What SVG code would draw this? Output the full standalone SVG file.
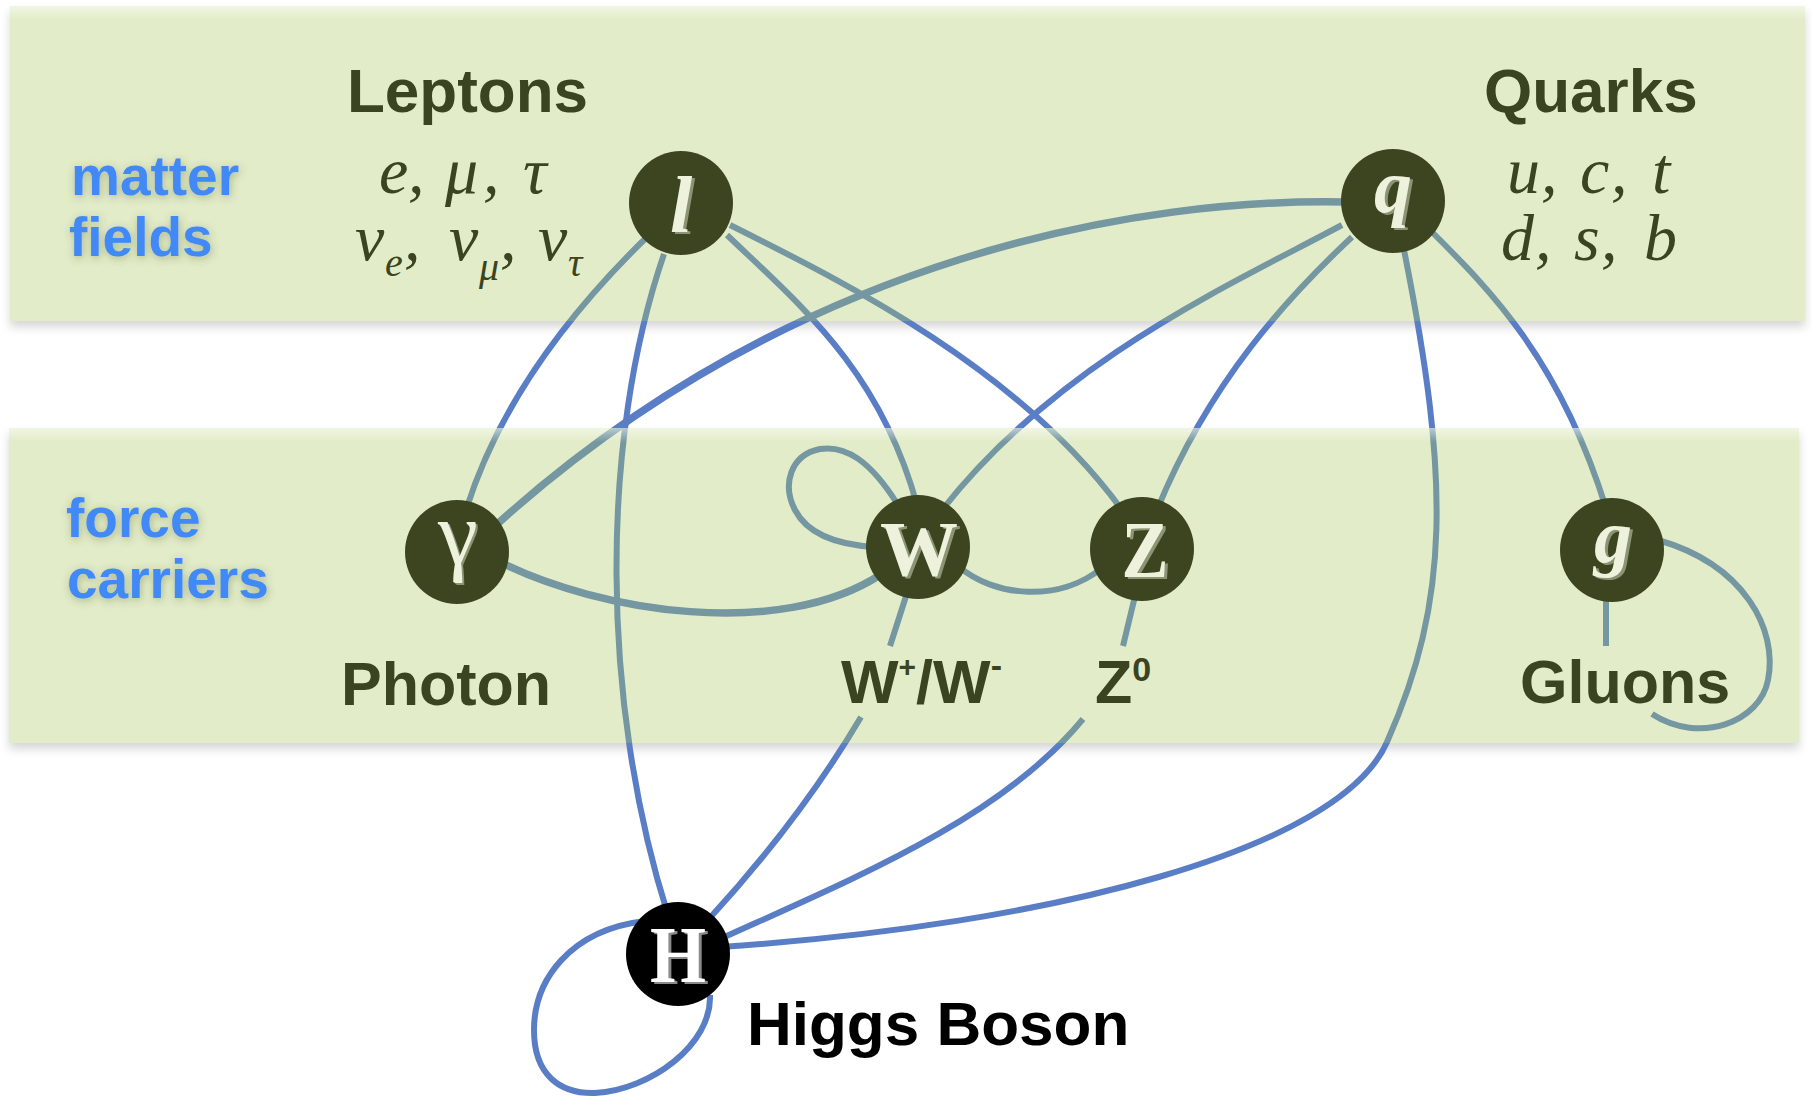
<svg xmlns="http://www.w3.org/2000/svg" width="1812" height="1097" viewBox="0 0 1812 1097">
<defs>
  <style>
    .band { fill: #aac65d; fill-opacity: 0.34; }
    .edge { stroke: #5a7ec6; stroke-width: 6; fill: none; stroke-linecap: butt; }
    .thick { stroke-width: 7.5; }
    .node { fill: #3c4520; }
    .hnode { fill: #000; }
    .lbl { font-family: "Liberation Sans", Arial, sans-serif; font-weight: bold; fill: #3b4421; }
    .blue { font-family: "Liberation Sans", Arial, sans-serif; font-weight: bold; fill: #3f89f6; font-size: 55px; }
    .math { font-family: "Liberation Serif", "Times New Roman", serif; font-style: italic; fill: #3b4421; font-size: 66px; }
    .sub { font-family: "Liberation Serif", "Times New Roman", serif; font-style: italic; fill: #3b4421; font-size: 40px; }
    .sym { font-family: "Liberation Serif", "Times New Roman", serif; text-anchor: middle; }
    .symsh { fill: #8c9474; }
    .symfg { fill: #eef1dc; }
  </style>
  <filter id="bandShadow" x="-2%" y="-10%" width="104%" height="130%">
    <feGaussianBlur in="SourceAlpha" stdDeviation="5" result="b"/>
    <feOffset in="b" dy="6" result="o"/>
    <feComposite in="o" in2="SourceAlpha" operator="out" result="s"/>
    <feFlood flood-color="#000" flood-opacity="0.16"/>
    <feComposite in2="s" operator="in"/>
  </filter>
  <filter id="glow" x="-10%" y="-20%" width="120%" height="140%">
    <feGaussianBlur in="SourceAlpha" stdDeviation="4" result="b"/>
    <feOffset in="b" dx="1" dy="2" result="o"/>
    <feFlood flood-color="#3a4a20" flood-opacity="0.35"/>
    <feComposite in2="o" operator="in" result="s"/>
    <feMerge><feMergeNode in="s"/><feMergeNode in="SourceGraphic"/></feMerge>
  </filter>
  <linearGradient id="topHi" x1="0" y1="0" x2="0" y2="1">
    <stop offset="0" stop-color="#ffffff" stop-opacity="0.5"/>
    <stop offset="1" stop-color="#ffffff" stop-opacity="0"/>
  </linearGradient>
</defs>

<rect x="0" y="0" width="1812" height="1097" fill="#ffffff"/>

<!-- band shadows -->
<g id="band-shadows" filter="url(#bandShadow)">
  <rect x="10" y="6" width="1795" height="315" fill="#000"/>
  <rect x="9" y="428" width="1790" height="315" fill="#000"/>
</g>

<!-- connectors -->
<g id="connectors">
  <path id="c-l-gamma" class="edge" d="M 647,237 Q 510,370 466,510"/>
  <path id="c-l-H" class="edge" d="M 664,254 C 600,440 600,700 668,915"/>
  <path id="c-l-W" class="edge" d="M 727,235 C 800,305 880,370 917,505"/>
  <path id="c-l-Z" class="edge" d="M 730,225 C 850,285 1020,370 1122,510"/>
  <path id="c-q-gamma" class="edge thick" d="M 1345,202 C 1150,198 800,250 495,526"/>
  <path id="c-q-W" class="edge" d="M 1342,225 C 1230,285 1060,360 942,510"/>
  <path id="c-q-Z" class="edge" d="M 1352,237 C 1290,295 1210,380 1157,510"/>
  <path id="c-q-H" class="edge" d="M 1404,250 C 1450,480 1450,600 1387,742 C 1340,850 1050,925 720,947"/>
  <path id="c-q-g" class="edge" d="M 1433,233 C 1490,290 1560,360 1606,508"/>
  <path id="c-gamma-W" class="edge thick" d="M 500,562 C 600,612 780,640 880,575"/>
  <path id="c-W-W" class="edge" d="M 898,505 C 870,460 845,445 820,449 C 790,455 782,485 795,510 C 808,535 840,545 875,547"/>
  <path id="c-W-Z" class="edge" d="M 958,566 C 995,598 1060,602 1102,568"/>
  <path id="c-W-H" class="edge" d="M 908,590 L 890,646 M 861,717 Q 800,820 708,920"/>
  <path id="c-Z-H" class="edge" d="M 1136,592 L 1123,646 M 1083,719 C 1000,820 850,880 718,940"/>
  <path id="c-g-g" class="edge" d="M 1606,595 L 1606,646 M 1658,540 C 1745,565 1778,630 1768,680 C 1760,722 1700,745 1652,714"/>
  <path id="c-H-H" class="edge" d="M 645,921 C 570,930 534,980 534,1030 C 534,1075 560,1094 595,1093 C 650,1090 712,1045 710,995"/>
</g>

<!-- bands -->
<g id="bands">
  <rect class="band" x="10" y="6" width="1795" height="315"/>
  <rect x="10" y="6" width="1795" height="14" fill="url(#topHi)"/>
  <rect class="band" x="9" y="428" width="1790" height="315"/>
  <rect x="9" y="428" width="1790" height="14" fill="url(#topHi)"/>
</g>

<!-- band labels -->
<g id="band-labels" filter="url(#glow)">
  <text class="blue" x="71" y="195">matter</text>
  <text class="blue" x="69" y="256">fields</text>
  <text class="blue" x="66" y="537">force</text>
  <text class="blue" x="67" y="598">carriers</text>
</g>

<!-- Leptons -->
<g id="node-l">
  <text class="lbl" x="347" y="112" font-size="62">Leptons</text>
  <text class="math" x="379 408 422 445 483 497 523" y="193">e, μ, τ</text>
  <text class="math" x="355" y="260">ν</text>
  <text class="sub" x="385" y="276">e</text>
  <text class="math" x="404" y="260">,</text>
  <text class="math" x="449" y="260">ν</text>
  <text class="sub" x="479" y="280">μ</text>
  <text class="math" x="500" y="260">,</text>
  <text class="math" x="538" y="260">ν</text>
  <text class="sub" x="568" y="276">τ</text>
  <circle class="node" cx="681" cy="203" r="52"/>
  <text class="sym symsh" x="684" y="234" font-size="80" font-weight="bold" font-style="italic">l</text>
  <text class="sym symfg" x="681" y="232" font-size="80" font-weight="bold" font-style="italic">l</text>
</g>

<!-- Quarks -->
<g id="node-q">
  <text class="lbl" x="1484" y="112" font-size="62">Quarks</text>
  <text class="math" x="1507 1541 1555 1580 1611 1625 1652" y="193">u, c, t</text>
  <text class="math" x="1501 1535 1549 1574 1601 1615 1644" y="260">d, s, b</text>
  <circle class="node" cx="1393" cy="201" r="52"/>
  <text class="sym symsh" x="1396" y="214" font-size="76" font-weight="bold" font-style="italic">q</text>
  <text class="sym symfg" x="1393" y="212" font-size="76" font-weight="bold" font-style="italic">q</text>
</g>

<!-- Photon -->
<g id="node-gamma">
  <circle class="node" cx="457" cy="552" r="52"/>
  <text class="sym symsh" x="460" y="566" font-size="90">γ</text>
  <text class="sym symfg" x="458" y="564" font-size="90">γ</text>
  <text class="lbl" x="341" y="705" font-size="61">Photon</text>
</g>

<!-- W -->
<g id="node-W">
  <circle class="node" cx="918" cy="547" r="52"/>
  <text class="sym symsh" x="922" y="577" font-size="78" font-weight="bold">W</text>
  <text class="sym symfg" x="919" y="575" font-size="78" font-weight="bold">W</text>
  <text class="lbl" x="841" y="703" font-size="61">W<tspan font-size="30" dy="-26">+</tspan><tspan dy="26">/W</tspan><tspan font-size="34" dy="-26">-</tspan></text>
</g>

<!-- Z -->
<g id="node-Z">
  <circle class="node" cx="1142" cy="549" r="52"/>
  <text class="sym symsh" x="1148" y="579" font-size="80" font-weight="bold" textLength="47" lengthAdjust="spacingAndGlyphs">Z</text>
  <text class="sym symfg" x="1145" y="577" font-size="80" font-weight="bold" textLength="47" lengthAdjust="spacingAndGlyphs">Z</text>
  <text class="lbl" x="1095" y="703" font-size="61">Z<tspan font-size="34" dy="-22">0</tspan></text>
</g>

<!-- gluon -->
<g id="node-g">
  <circle class="node" cx="1612" cy="550" r="52"/>
  <text class="sym symsh" x="1616" y="564" font-size="76" font-weight="bold" font-style="italic">g</text>
  <text class="sym symfg" x="1613" y="562" font-size="76" font-weight="bold" font-style="italic">g</text>
  <text class="lbl" x="1520" y="703" font-size="61">Gluons</text>
</g>

<!-- Higgs -->
<g id="node-H">
  <circle class="hnode" cx="678" cy="954" r="52"/>
  <text class="sym" x="681" y="984" font-size="80" font-weight="bold" fill="#8a8a8a" textLength="56" lengthAdjust="spacingAndGlyphs">H</text>
  <text class="sym" x="678" y="982" font-size="80" font-weight="bold" fill="#ffffff" textLength="56" lengthAdjust="spacingAndGlyphs">H</text>
  <text x="747" y="1045" font-family="Liberation Sans, Arial, sans-serif" font-weight="bold" font-size="62" fill="#000">Higgs Boson</text>
</g>
</svg>
